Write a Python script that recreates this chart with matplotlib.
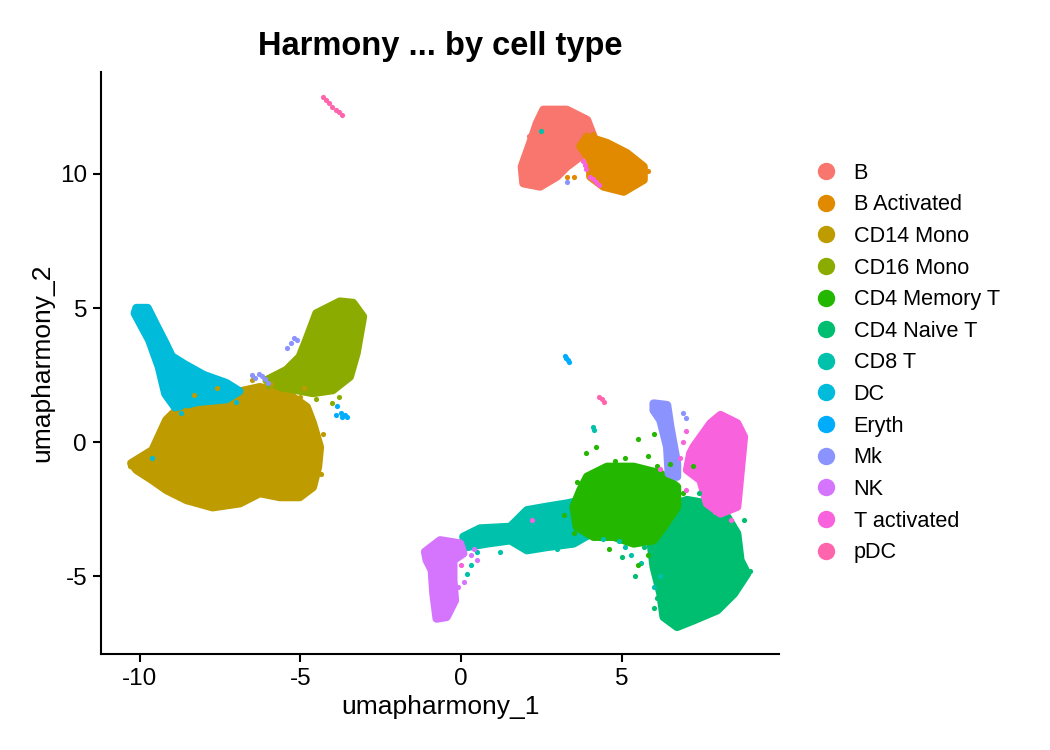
import matplotlib
matplotlib.use("Agg")
import matplotlib.pyplot as plt
from matplotlib.lines import Line2D

plt.rcParams['font.family'] = ['Liberation Sans', 'DejaVu Sans']

cell_types = ["B", "B Activated", "CD14 Mono", "CD16 Mono", "CD4 Memory T",
              "CD4 Naive T", "CD8 T", "DC", "Eryth", "Mk", "NK", "T activated", "pDC"]
colors = ["#F8766D", "#E18A00", "#BE9C00", "#8CAB00", "#24B700", "#00BE70",
          "#00C1AB", "#00BBDA", "#00ACFC", "#8B93FF", "#D575FE", "#F962DD", "#FF65AC"]

# Cluster outlines (umap coordinates)
outline_B = [(2.56, 12.39), (3.29, 12.39), (3.92, 12.01), (4.12, 11.39), (3.60, 11.15),
             (3.71, 10.65), (3.29, 10.27), (2.98, 9.90), (2.46, 9.53), (1.94, 9.65),
             (1.89, 10.27), (2.15, 11.15), (2.36, 11.89)]
outline_B_act = [(3.92, 11.39), (4.54, 11.15), (5.16, 10.77), (5.68, 10.27), (5.68, 9.78),
                 (5.06, 9.34), (4.43, 9.53), (4.02, 9.90), (4.02, 10.52), (3.71, 11.03)]
outline_CD14 = [(-10.26, -0.79), (-9.60, -0.30), (-9.17, 0.82), (-8.75, 1.32), (-8.13, 1.57),
                (-7.10, 1.83), (-6.26, 2.05), (-5.42, 1.83), (-4.80, 1.31), (-4.61, 0.71),
                (-4.39, -0.19), (-4.45, -0.93), (-4.61, -1.68), (-5.02, -2.05), (-5.64, -2.05),
                (-6.26, -1.90), (-6.88, -2.28), (-7.73, -2.43), (-8.54, -2.16), (-9.16, -1.79),
                (-9.60, -1.42), (-10.09, -1.04)]
outline_CD16 = [(-3.77, 5.24), (-4.50, 4.80), (-4.81, 3.81), (-5.02, 3.18), (-5.43, 2.69),
                (-6.05, 2.31), (-5.64, 2.06), (-4.61, 1.83), (-3.99, 1.94), (-3.46, 2.44),
                (-3.25, 3.32), (-3.05, 4.68), (-3.36, 5.19)]
outline_CD4_mem = [(3.71, -1.79), (3.92, -1.29), (4.54, -0.92), (5.37, -0.92), (6.20, -1.17),
                   (6.72, -1.67), (6.72, -2.41), (6.30, -3.16), (5.99, -3.66), (5.37, -3.78),
                   (4.75, -3.53), (4.12, -3.53), (3.60, -3.16), (3.50, -2.41)]
outline_CD4_naive = [(5.99, -2.91), (6.41, -2.41), (7.03, -2.16), (7.65, -2.29), (8.28, -2.79),
                     (8.59, -3.41), (8.69, -4.40), (8.90, -4.90), (8.49, -5.65), (7.97, -6.27),
                     (7.24, -6.64), (6.72, -6.89), (6.30, -6.52), (6.20, -5.65), (5.99, -4.65),
                     (5.89, -3.66)]
outline_CD8 = [(0.07, -3.53), (0.59, -3.22), (1.53, -3.16), (2.05, -2.54), (2.67, -2.41),
               (3.29, -2.29), (3.81, -2.16), (4.23, -3.28), (3.50, -3.78), (2.67, -3.91),
               (2.05, -4.03), (1.53, -3.66), (0.80, -3.78), (0.18, -3.91)]
outline_DC = [(-10.10, 5.00), (-9.75, 5.00), (-9.50, 4.40), (-9.20, 3.70), (-9.00, 3.20),
              (-8.60, 2.90), (-8.00, 2.50), (-7.30, 2.20), (-6.90, 1.90), (-7.30, 1.60),
              (-8.20, 1.50), (-8.90, 1.30), (-9.20, 1.80), (-9.40, 2.80), (-9.70, 3.80),
              (-10.15, 4.80)]
outline_Mk = [(5.99, 1.44), (6.41, 1.38), (6.51, 0.57), (6.72, -0.80), (6.72, -1.29),
              (6.46, -1.17), (6.41, -0.17), (6.20, 0.82), (5.99, 1.19)]
outline_NK = [(-1.12, -4.09), (-0.65, -3.66), (-0.03, -3.78), (0.07, -4.15), (-0.24, -4.40),
              (-0.24, -5.15), (-0.19, -5.90), (-0.45, -6.52), (-0.76, -6.58), (-0.86, -5.65),
              (-0.91, -4.78), (-1.07, -4.40)]
outline_T_act = [(7.24, -0.17), (7.76, 0.70), (8.07, 1.01), (8.59, 0.70), (8.80, 0.20),
                 (8.69, -1.17), (8.59, -2.41), (8.07, -2.66), (7.65, -2.29), (7.45, -1.42),
                 (7.03, -1.04), (7.13, -0.42)]

outlines = {
    "B": [outline_B], "B Activated": [outline_B_act], "CD14 Mono": [outline_CD14],
    "CD16 Mono": [outline_CD16], "CD4 Memory T": [outline_CD4_mem],
    "CD4 Naive T": [outline_CD4_naive], "CD8 T": [outline_CD8], "DC": [outline_DC],
    "Eryth": [], "Mk": [outline_Mk], "NK": [outline_NK], "T activated": [outline_T_act],
    "pDC": [],
}

# Scattered cells outside the dense bodies
cells_B = [(2.3, 9.6), (2.7, 9.7), (4.0, 11.6), (1.9, 10.0), (2.1, 11.4)]
cells_B_act = [(3.3, 9.9), (3.5, 9.9), (4.1, 11.5), (5.3, 9.5), (5.8, 10.1), (4.4, 11.2)]
cells_CD14 = [(-6.5, 2.3), (-5.9, 2.15), (-8.3, 1.75), (-7.6, 2.0), (-4.3, 0.3), (-4.35, -1.2),
              (-8.6, 1.2), (-5.0, 1.7), (-4.9, 2.0), (-10.3, -0.9), (-6.4, -2.0)]
cells_CD16 = [(-5.8, 2.25), (-6.0, 2.1), (-4.5, 1.6), (-4.0, 1.45), (-3.8, 1.7), (-3.2, 4.3),
              (-5.3, 2.5), (-5.6, 2.4)]
cells_CD4_mem = [(3.9, -0.4), (4.2, -0.2), (5.5, 0.1), (5.8, -0.5), (6.0, 0.3), (6.5, -0.8),
                 (3.2, -2.7), (3.5, -3.4), (5.5, -4.6), (5.8, -4.2), (4.6, -4.0), (7.2, -0.9),
                 (6.9, -1.9), (3.6, -1.5), (4.8, -0.7), (5.1, -0.6), (6.1, -0.9)]
cells_CD4_naive = [(5.0, -4.3), (5.4, -5.0), (6.1, -5.8), (5.7, -3.9), (8.8, -2.9), (7.4, -1.9),
                   (9.0, -4.8), (6.0, -6.2)]
cells_CD8 = [(4.1, 0.55), (4.15, 0.45), (5.3, -4.2), (5.6, -4.5), (6.2, -5.0), (0.5, -4.1),
             (0.2, -4.9), (1.0, -3.5), (4.4, -3.6), (5.1, -3.9), (0.3, -4.6), (2.5, 11.6),
             (6.0, -5.4), (4.9, -3.7), (1.2, -4.1), (3.0, -4.0)]
cells_DC = [(-8.7, 1.1), (-9.6, -0.6), (-8.9, 1.7), (-7.0, 1.5), (-7.5, 1.7)]
cells_Eryth = [(-3.85, 1.35), (-3.75, 1.1), (-3.6, 1.0), (-3.9, 1.0), (-3.7, 0.95),
               (-3.55, 0.95), (3.22, 3.22), (3.28, 3.15), (3.32, 3.05), (3.36, 2.98),
               (3.25, 3.12)]
cells_Mk = [(-5.2, 3.9), (-5.3, 3.7), (-5.1, 3.8), (-5.4, 3.5), (-6.5, 2.5), (-6.3, 2.55),
            (-6.2, 2.45), (-6.4, 2.4), (-6.1, 2.35), (-6.0, 2.2), (6.9, 1.1), (7.0, 0.9),
            (3.3, 9.7)]
cells_NK = [(0.3, -4.2), (0.5, -4.4), (0.1, -5.2), (-0.1, -5.4), (0.4, -4.0)]
cells_T_act = [(6.8, -0.6), (7.0, 0.4), (8.4, -2.9), (7.9, -2.6), (7.0, -1.8), (6.2, -1.0),
               (0.0, -4.6), (2.2, -2.9), (3.8, 10.5), (3.9, 10.2), (4.0, 9.9), (4.2, 9.7),
               (4.3, 9.6), (3.85, 10.35), (4.1, 9.8), (6.9, 0.0), (7.1, -0.5)]
cells_pDC = [(-4.30, 12.85), (-4.20, 12.75), (-4.10, 12.65), (-4.00, 12.50), (-3.90, 12.40),
             (-3.80, 12.30), (-3.70, 12.20), (4.30, 1.70), (4.38, 1.60), (4.45, 1.50)]

cells = {
    "B": cells_B, "B Activated": cells_B_act, "CD14 Mono": cells_CD14, "CD16 Mono": cells_CD16,
    "CD4 Memory T": cells_CD4_mem, "CD4 Naive T": cells_CD4_naive, "CD8 T": cells_CD8,
    "DC": cells_DC, "Eryth": cells_Eryth, "Mk": cells_Mk, "NK": cells_NK,
    "T activated": cells_T_act, "pDC": cells_pDC,
}

x_ticks = [-10, -5, 0, 5]
y_ticks = [-5, 0, 5, 10]

fig = plt.figure(figsize=(10.5, 7.5), dpi=100)
ax = fig.add_axes([0.0962, 0.128, 0.646, 0.776])

draw_order = ["CD14 Mono", "DC", "CD16 Mono", "B", "B Activated", "CD8 T", "NK",
              "CD4 Naive T", "CD4 Memory T", "T activated", "Mk", "Eryth", "pDC"]
cmap = dict(zip(cell_types, colors))
for ct in draw_order:
    c = cmap[ct]
    for poly in outlines[ct]:
        xs = [p[0] for p in poly]
        ys = [p[1] for p in poly]
        ax.fill(xs, ys, facecolor=c, edgecolor=c, linewidth=6, joinstyle='round', zorder=2)
for ct in draw_order:
    pts = cells[ct]
    if pts:
        ax.scatter([p[0] for p in pts], [p[1] for p in pts], s=14, color=cmap[ct],
                   linewidths=0, zorder=3)

ax.set_xlim(-11.2, 9.9)
ax.set_ylim(-7.9, 13.8)
ax.set_xticks(x_ticks)
ax.set_yticks(y_ticks)
ax.set_xticklabels([str(v) for v in x_ticks])
ax.set_yticklabels([str(v) for v in y_ticks])
for s in ["top", "right"]:
    ax.spines[s].set_visible(False)
for s in ["left", "bottom"]:
    ax.spines[s].set_linewidth(1.5)
ax.tick_params(axis='both', direction='out', length=6, width=1.5, labelsize=17.5, pad=4)
ax.set_xlabel("umapharmony_1", fontsize=19, labelpad=4)
ax.set_ylabel("umapharmony_2", fontsize=19, labelpad=4)
ax.set_title("Harmony ... by cell type", fontsize=23.5, fontweight='bold', pad=12)

handles = [Line2D([0], [0], marker='o', linestyle='', markersize=11.5,
                  markerfacecolor=c, markeredgecolor=c) for c in colors]
fig.legend(handles, cell_types, loc='upper left', bbox_to_anchor=(0.774, 0.783),
           frameon=False, fontsize=15.6, handletextpad=0.69, labelspacing=0.49,
           borderaxespad=0, borderpad=0, handlelength=1.2)

fig.savefig("out.png", dpi=100)
